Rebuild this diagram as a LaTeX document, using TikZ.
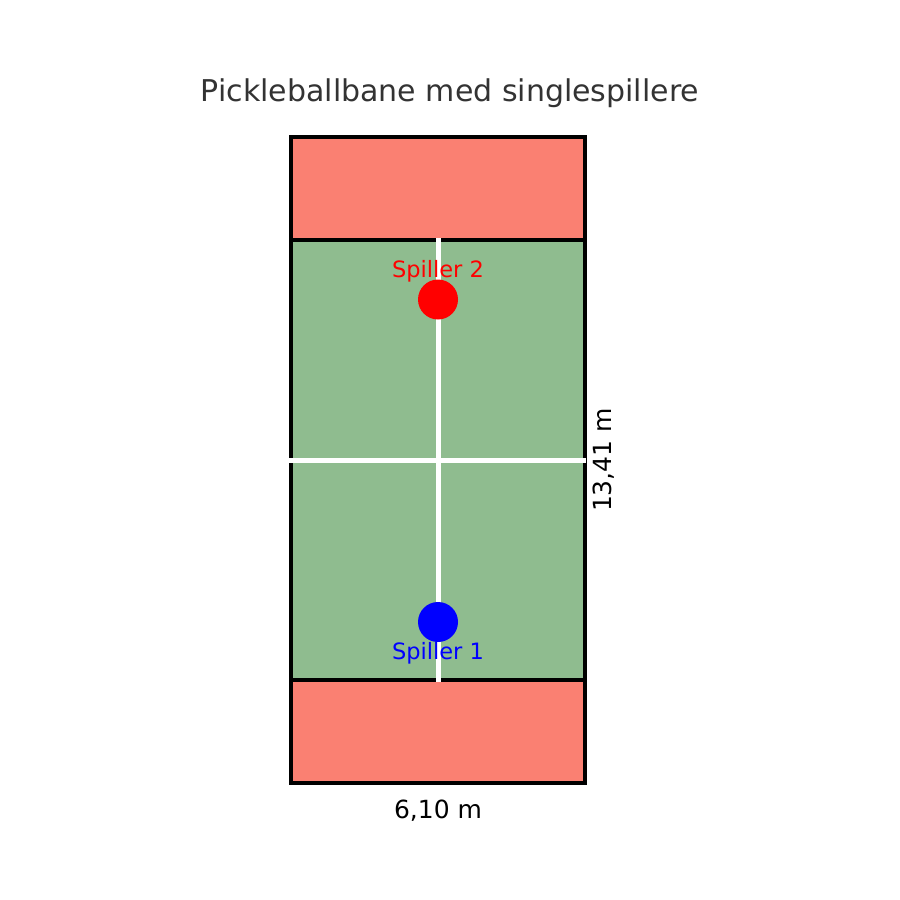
\documentclass[tikz,border=0pt]{standalone}
\usepackage{fontspec}
\setmainfont{DejaVu Sans}
\definecolor{salmonc}{HTML}{FA8072}
\definecolor{greenc}{HTML}{8FBC8F}
\definecolor{titlec}{HTML}{333333}
\begin{document}
\begin{tikzpicture}[x=1bp,y=-1bp,
  zone/.style={draw=black,line width=3.6bp},
  courtline/.style={draw=white,line width=5bp},
  player/.style={circle,minimum size=40bp,inner sep=0pt},
  lbl/.style={font=\fontsize{25bp}{30bp}\selectfont,inner sep=0pt},
  plbl/.style={font=\fontsize{22.5bp}{27bp}\selectfont,inner sep=0pt}]
\useasboundingbox (0,0) rectangle (900,900);
% zones
\fill[salmonc] (291,137) rectangle (585,240);
\fill[salmonc] (291,680) rectangle (585,783);
\fill[greenc] (291,240) rectangle (585,680);
\draw[zone] (291,137) rectangle (585,240);
\draw[zone] (291,680) rectangle (585,783);
\draw[zone] (291,240) rectangle (585,680);
% lines
\coordinate (ctop) at (438,238);
\coordinate (cbot) at (438,682);
\coordinate (nl) at (289,460);
\coordinate (nr) at (586,460);
\draw[courtline] (ctop) -- (cbot);
\draw[courtline] (nl) -- (nr);
% players
\node[player,fill=red] (p2) at (438,299.5) {};
\node[player,fill=blue] (p1) at (438,622) {};
\node[plbl,text=red,anchor=base] (l2) at (438,277) {Spiller 2};
\node[plbl,text=blue,anchor=base] (l1) at (438,659) {Spiller 1};
% dimensions
\node[lbl,anchor=base] (w) at (438,818) {6,10 m};
\node[lbl,anchor=base,rotate=90] (h) at (611,460) {13,41 m};
% title
\node[anchor=base,text=titlec,font=\fontsize{30bp}{36bp}\selectfont,inner sep=0pt] (t) at (450,101) {Pickleballbane med singlespillere};
\end{tikzpicture}
\end{document}
